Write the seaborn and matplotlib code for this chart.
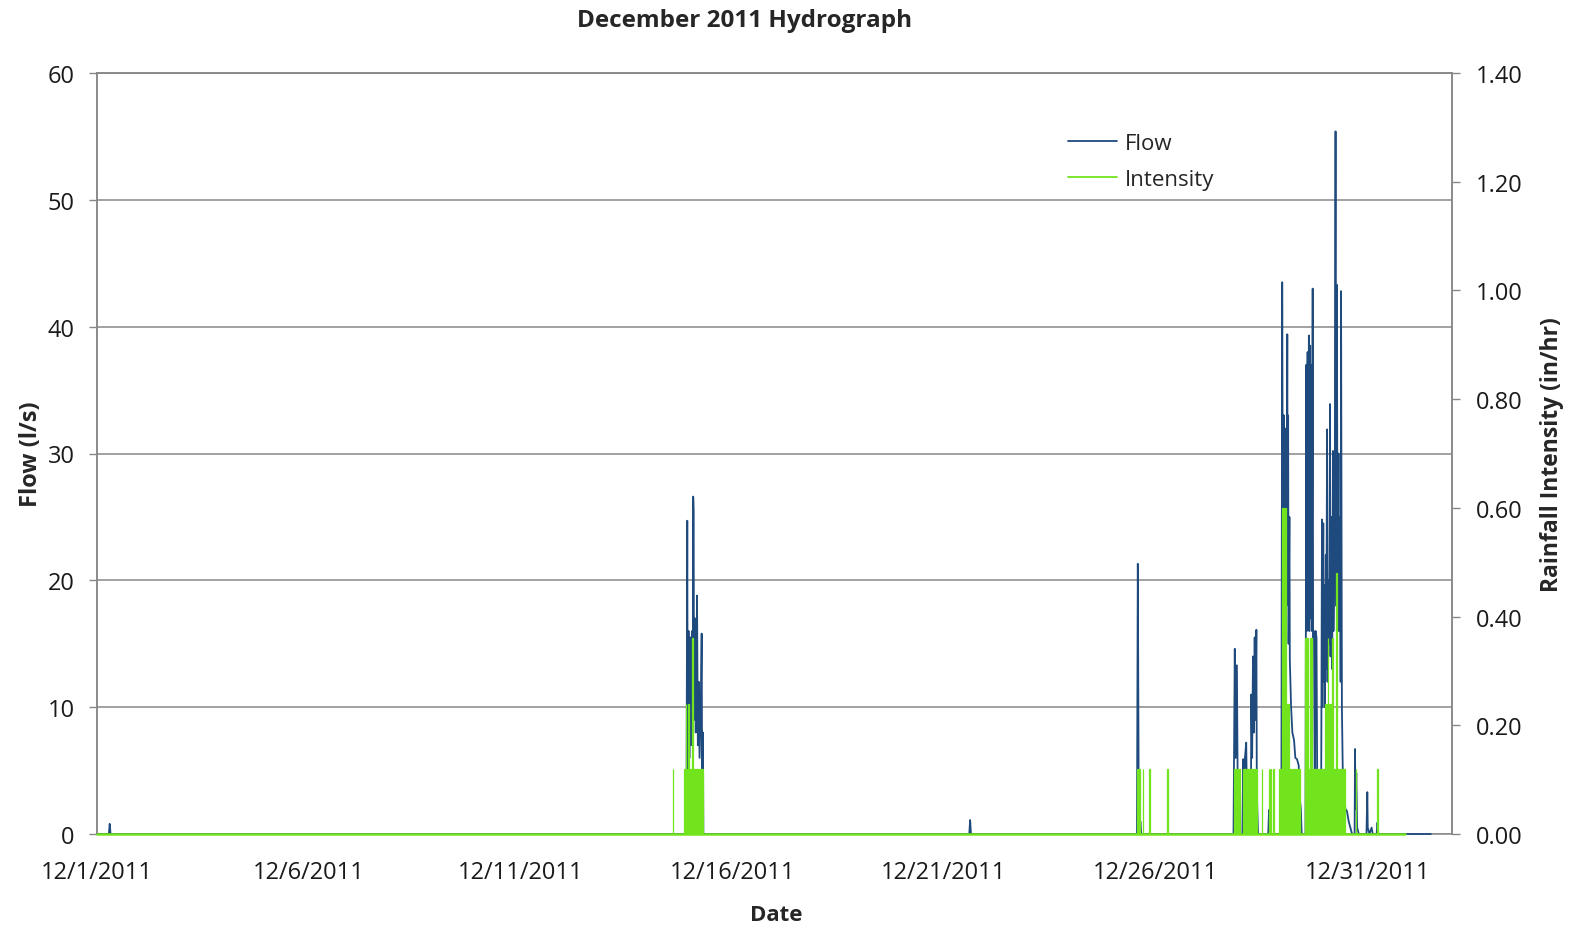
import pandas as pd
import matplotlib
matplotlib.use('Agg')
import matplotlib.pyplot as plt
from matplotlib.lines import Line2D
import seaborn as sns

# flow record: days after 12/1/2011 00:00 and flow (l/s)
flow_day = [
    0.00, 0.28, 0.30, 0.32,
    13.92, 13.94, 13.95, 13.97, 13.99, 14.01, 14.03, 14.05, 14.07, 14.08, 14.09, 14.10,
    14.12, 14.14, 14.16, 14.17, 14.19, 14.21, 14.23, 14.26, 14.28, 14.29, 14.31, 14.32,
    20.60, 20.62, 20.64,
    24.56, 24.58, 24.60, 24.63, 24.64, 24.66,
    26.84, 26.87, 26.89, 26.92, 26.94, 26.96, 26.97, 26.98,
    27.05, 27.07, 27.09, 27.11, 27.14, 27.16, 27.19, 27.21, 27.23,
    27.25, 27.26, 27.28, 27.30, 27.32, 27.34, 27.36, 27.38, 27.39, 27.40, 27.42,
    27.66, 27.68, 27.70,
    27.97, 27.99, 28.00, 28.01, 28.02, 28.03, 28.04, 28.05, 28.06, 28.08, 28.09, 28.11,
    28.12, 28.13, 28.14, 28.16, 28.17, 28.20, 28.23, 28.27, 28.30, 28.34, 28.38, 28.40,
    28.43, 28.45,
    28.54, 28.56, 28.57, 28.59, 28.60, 28.62, 28.63, 28.65, 28.66, 28.68, 28.69, 28.71,
    28.72, 28.74, 28.76, 28.78, 28.80, 28.82, 28.84, 28.86, 28.89,
    28.91, 28.93, 28.94, 28.96, 28.97, 28.99, 29.00, 29.02, 29.03, 29.05, 29.06, 29.08,
    29.10, 29.12, 29.13, 29.15, 29.17, 29.19, 29.20, 29.22, 29.23, 29.25, 29.26, 29.28,
    29.30, 29.32, 29.33, 29.36, 29.37, 29.38, 29.40, 29.42, 29.45, 29.48, 29.52, 29.56,
    29.60, 29.64,
    29.70, 29.71, 29.72, 29.74, 29.76, 29.80,
    29.98, 30.00, 30.01, 30.05, 30.10, 30.13, 30.22, 30.24, 30.26,
    31.50,
]
flow_ls = [
    0.0, 0.0, 0.8, 0.0,
    0.0, 24.7, 5.0, 16.0, 6.0, 15.5, 7.0, 16.0, 8.0, 26.6, 25.5, 9.0,
    17.0, 8.0, 14.0, 18.8, 7.0, 12.0, 6.0, 10.0, 15.8, 5.0, 8.0, 0.0,
    0.0, 1.1, 0.0,
    0.0, 21.3, 4.0, 0.0, 1.0, 0.0,
    0.0, 14.6, 6.0, 13.3, 3.0, 0.0, 1.1, 0.0,
    0.0, 5.9, 3.0, 6.0, 7.2, 2.0, 0.0, 4.4, 1.0,
    0.0, 11.0, 6.0, 14.0, 8.0, 15.5, 9.0, 16.1, 4.0, 2.2, 0.0,
    0.0, 1.9, 0.0,
    0.0, 43.5, 30.0, 33.0, 15.0, 33.0, 20.0, 32.0, 12.0, 30.0, 18.0, 39.4,
    20.0, 33.0, 15.0, 25.0, 13.7, 10.0, 8.0, 7.4, 6.0, 5.9, 5.4, 3.0,
    2.0, 0.0,
    0.0, 37.0, 16.0, 38.0, 17.0, 39.3, 16.0, 38.5, 17.0, 37.0, 16.0, 43.0,
    15.5, 16.0, 3.0, 16.0, 15.5, 2.0, 5.0, 1.0, 5.0,
    3.0, 24.8, 10.0, 24.5, 12.0, 19.6, 10.0, 22.0, 13.0, 31.9, 12.0, 20.0,
    15.0, 33.9, 14.0, 25.0, 13.0, 30.2, 16.0, 22.0, 20.0, 55.4, 18.0, 43.3,
    18.0, 30.0, 16.0, 25.0, 12.0, 42.8, 10.0, 5.0, 3.5, 2.0, 1.8, 1.0,
    0.5, 0.0,
    0.0, 6.7, 2.0, 4.8, 0.5, 0.0,
    0.0, 3.3, 0.5, 0.0, 0.5, 0.0, 0.0, 0.9, 0.0,
    0.0,
]

# rain gauge record span (intensity zero outside bursts)
rain_day = [0.0, 30.90]
rain_zero = [0.0, 0.0]

# rainfall bursts: start day, end day, intensity (in/hr)
rain_start = [
    13.60, 13.87, 13.91, 13.96, 14.05,
    24.56, 24.70, 24.85, 25.28,
    26.85, 27.06, 27.15, 27.24, 27.51, 27.67, 27.71, 27.78,
    27.92, 28.22, 28.32, 27.98, 28.02, 28.05, 28.07,
    28.52, 28.66, 28.54, 28.64,
    28.88, 29.12, 29.32, 29.00, 29.10, 29.06, 29.16, 29.25,
    29.73, 30.24,
]
rain_end = [
    13.61, 14.32, 13.92, 13.97, 14.08,
    24.62, 24.71, 24.86, 25.29,
    26.99, 27.13, 27.22, 27.39, 27.52, 27.68, 27.73, 27.79,
    28.20, 28.30, 28.42, 28.00, 28.03, 28.07, 28.16,
    28.64, 28.86, 28.59, 28.69,
    29.10, 29.30, 29.48, 29.06, 29.16, 29.08, 29.20, 29.28,
    29.74, 30.25,
]
rain_level = [
    0.12, 0.12, 0.24, 0.24, 0.36,
    0.12, 0.12, 0.12, 0.12,
    0.12, 0.12, 0.12, 0.12, 0.12, 0.12, 0.12, 0.12,
    0.12, 0.12, 0.12, 0.60, 0.60, 0.60, 0.24,
    0.12, 0.12, 0.36, 0.36,
    0.12, 0.12, 0.12, 0.24, 0.24, 0.36, 0.36, 0.48,
    0.12, 0.12,
]

tick_day = [0, 5, 10, 15, 20, 25, 30]
tick_labels = ['12/1/2011', '12/6/2011', '12/11/2011', '12/16/2011',
               '12/21/2011', '12/26/2011', '12/31/2011']
flow_ticks = [0, 10, 20, 30, 40, 50, 60]
rain_ticks = [0.0, 0.2, 0.4, 0.6, 0.8, 1.0, 1.2, 1.4]

navy = '#1F4A7E'
lime = '#72E41E'
grey = '#878787'
ink = '#1a1a1a'

sns.set_style('white')
plt.rcParams['font.family'] = ['Open Sans', 'DejaVu Sans']

start = pd.Timestamp('2011-12-01')
flow_df = pd.DataFrame({'Date': start + pd.to_timedelta(flow_day, unit='D'), 'Flow': flow_ls})
base_df = pd.DataFrame({'Date': start + pd.to_timedelta(rain_day, unit='D'), 'Intensity': rain_zero})
burst_df = pd.DataFrame({'start': start + pd.to_timedelta(rain_start, unit='D'),
                         'width': [e - s for s, e in zip(rain_start, rain_end)],
                         'level': rain_level})

fig = plt.figure(figsize=(15.69, 9.28), dpi=100)
ax = fig.add_axes([97 / 1569, 1 - 835 / 928, 1355 / 1569, 761 / 928])

sns.lineplot(data=flow_df, x='Date', y='Flow', ax=ax, color=navy, lw=1.3,
             estimator=None, sort=False, zorder=4, clip_on=False)

ax2 = ax.twinx()
sns.lineplot(data=base_df, x='Date', y='Intensity', ax=ax2, color=lime, lw=1.8,
             estimator=None, sort=False, zorder=4, clip_on=False)
ax2.bar(burst_df['start'], burst_df['level'], width=burst_df['width'], align='edge',
        color=lime, edgecolor=lime, linewidth=0.9)

ax.set_xlim(start, start + pd.Timedelta(days=32))
ax.set_ylim(0, 60)
ax2.set_ylim(0, 1.4)

ax.set_xticks(start + pd.to_timedelta(tick_day, unit='D'))
ax.set_xticklabels(tick_labels)
ax.set_yticks(flow_ticks)
ax.set_yticklabels([str(t) for t in flow_ticks])
ax2.set_yticks(rain_ticks)
ax2.set_yticklabels([f'{t:.2f}' for t in rain_ticks])

ax.yaxis.grid(True, color=grey, lw=1.1)
ax.set_axisbelow(True)
for a in (ax, ax2):
    for s in a.spines.values():
        s.set_color(grey)
        s.set_linewidth(1.1)
ax2.spines['bottom'].set_visible(False)
ax.tick_params(axis='x', length=5, width=1, color=grey, pad=14, labelsize=17, labelcolor=ink)
ax.tick_params(axis='y', length=6, width=1, color=grey, pad=10, labelsize=17, labelcolor=ink)
ax2.tick_params(axis='y', length=6, width=1, color=grey, pad=11, labelsize=17, labelcolor=ink)

ax.set_xlabel('Date', fontsize=16, fontweight='bold')
ax.xaxis.set_label_coords(0.501, -0.092)
ax.set_ylabel('Flow (l/s)', fontsize=17, fontweight='bold')
ax.yaxis.set_label_coords(-0.040, 0.5)
ax2.set_ylabel('Rainfall Intensity (in/hr)', fontsize=16.5, fontweight='bold')
ax2.yaxis.set_label_coords(1.065, 0.5)

fig.text(745 / 1569, 1 - 21 / 928, 'December 2011 Hydrograph', ha='center', va='center',
         fontsize=17.5, fontweight='bold')

handles = [Line2D([], [], color=navy, lw=1.3), Line2D([], [], color=lime, lw=1.3)]
fig.legend(handles, ['Flow', 'Intensity'], loc='upper left',
           bbox_to_anchor=(1048 / 1569, 1 - 114 / 928), frameon=False, fontsize=16,
           handlelength=2.2, handletextpad=0.35, labelspacing=0.68)

fig.savefig('out.png', dpi=100)
